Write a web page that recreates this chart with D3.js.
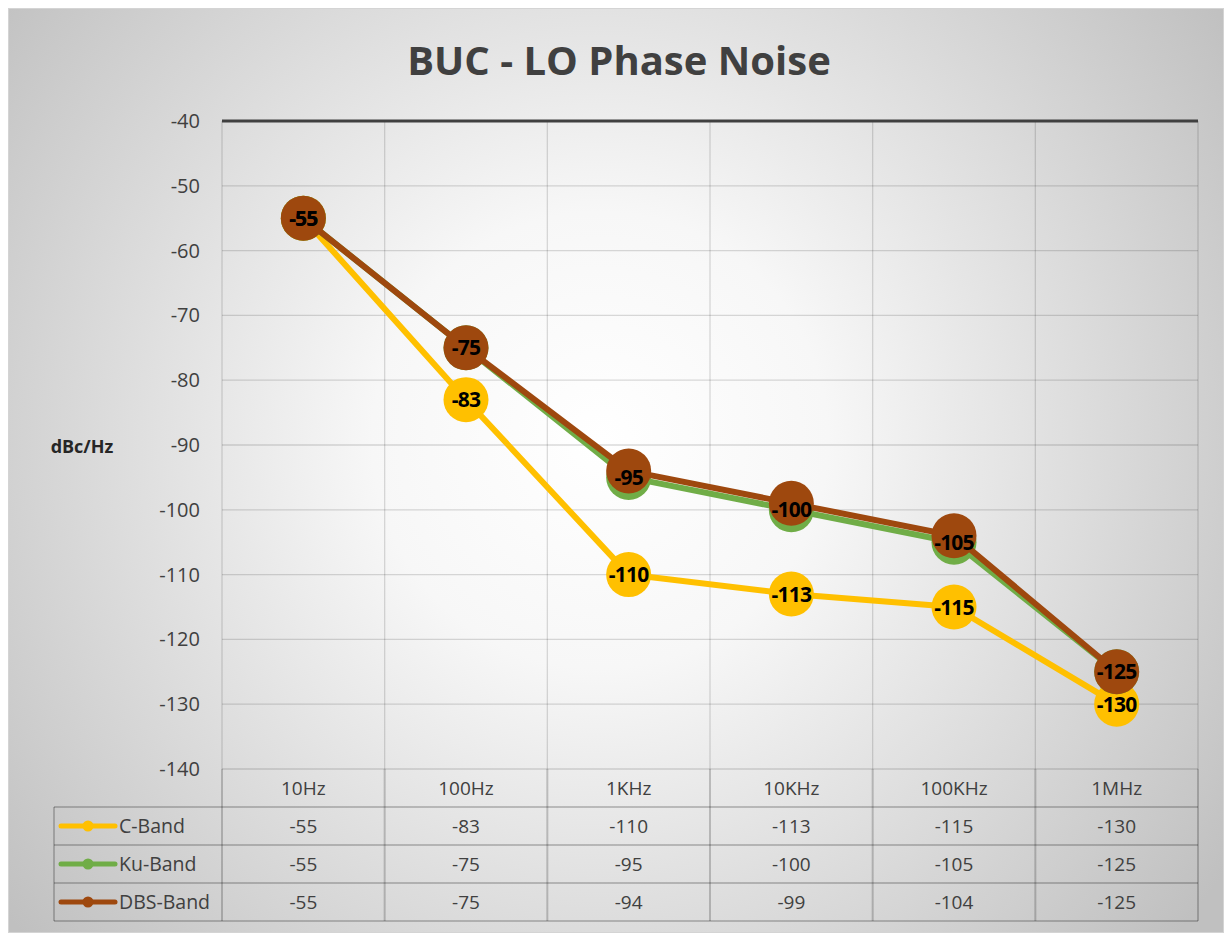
<!DOCTYPE html>
<html><head><meta charset="utf-8">
<script src="https://cdn.jsdelivr.net/npm/d3@7"></script>
<style>body{margin:0;background:#fff;} svg{display:block;font-family:"Open Sans",sans-serif;}</style>
</head><body>
<svg id="c" width="1224" height="933"></svg>
<script>
const categories = ["10Hz","100Hz","1KHz","10KHz","100KHz","1MHz"];
const cBand = [-55,-83,-110,-113,-115,-130];
const kuBand = [-55,-75,-95,-100,-105,-125];
const dbsBand = [-55,-75,-94,-99,-104,-125];
const yTicks = [-40,-50,-60,-70,-80,-90,-100,-110,-120,-130,-140];
const seriesNames = ["C-Band","Ku-Band","DBS-Band"];
const seriesColors = ["#FFC000","#70AD47","#9E480E"];
const seriesLabeled = [true,true,false];
const title = "BUC - LO Phase Noise";
const yTitle = "dBc/Hz";

const series = [cBand,kuBand,dbsBand].map((v,i)=>({name:seriesNames[i],values:v,color:seriesColors[i],labeled:seriesLabeled[i]}));

const svg = d3.select("#c");
const defs = svg.append("defs");
const rg = defs.append("radialGradient").attr("id","bg").attr("gradientUnits","userSpaceOnUse")
  .attr("cx",600).attr("cy",440).attr("r",760);
rg.append("stop").attr("offset","0%").attr("stop-color","#ffffff");
rg.append("stop").attr("offset","30%").attr("stop-color","#f7f7f7");
rg.append("stop").attr("offset","100%").attr("stop-color","#c0c0c0");

svg.append("rect").attr("x",8.5).attr("y",8.5).attr("width",1215).attr("height",924)
  .attr("fill","url(#bg)").attr("stroke","#d4d4d4").attr("stroke-width",1);

const L=222,R=1198,T=121,B=769;
const x = d3.scaleBand().domain(categories).range([L,R]);
const y = d3.scaleLinear().domain([-140,-40]).range([B,T]);
const cx = c => x(c)+x.bandwidth()/2;
const gridCol = "rgba(0,0,0,0.14)";

svg.append("g").selectAll("line").data(yTicks).join("line")
  .attr("x1",L).attr("x2",R).attr("y1",d=>y(d)).attr("y2",d=>y(d))
  .attr("stroke",gridCol).attr("stroke-width",1.3);
const vlines = categories.map(c=>x(c)).concat([R]);
svg.append("g").selectAll("line").data(vlines).join("line")
  .attr("x1",d=>d).attr("x2",d=>d).attr("y1",T).attr("y2",B)
  .attr("stroke",gridCol).attr("stroke-width",1.3);

svg.append("line").attr("x1",L).attr("x2",R).attr("y1",y(-40)).attr("y2",y(-40))
  .attr("stroke","#404040").attr("stroke-width",3);

const yAxis = d3.axisLeft(y).tickValues(yTicks).tickSize(0).tickPadding(0).tickFormat(d=>String(d));
const ga = svg.append("g").attr("transform",`translate(200,0)`).call(yAxis);
ga.select(".domain").remove();
ga.selectAll("text").attr("font-size",20).attr("fill","#404040").attr("font-family","'Open Sans',sans-serif");

svg.append("text").attr("x",82).attr("y",453).attr("text-anchor","middle")
  .attr("font-size",18).attr("font-weight","bold").attr("fill","#262626").text(yTitle);

svg.append("text").attr("x",619).attr("y",75).attr("text-anchor","middle")
  .attr("font-size",40).attr("font-weight","bold").attr("fill","#404040").text(title);

const rowH = 38;
const tableTop = B;
const tblCol = "rgba(0,0,0,0.2)";
const tg = svg.append("g");
tg.selectAll("text.h").data(categories).join("text").attr("class","h")
  .attr("x",d=>cx(d)).attr("y",tableTop+rowH/2+7).attr("text-anchor","middle")
  .attr("font-size",19).attr("fill","#404040").text(d=>d);
const hl = [tableTop+rowH, tableTop+2*rowH, tableTop+3*rowH, tableTop+4*rowH];
tg.selectAll("line.hl").data(hl).join("line").attr("class","hl")
  .attr("x1",54).attr("x2",R).attr("y1",d=>d).attr("y2",d=>d).attr("stroke",tblCol).attr("stroke-width",2);
tg.selectAll("line.vl").data(vlines).join("line").attr("class","vl")
  .attr("x1",d=>d).attr("x2",d=>d).attr("y1",tableTop).attr("y2",tableTop+4*rowH).attr("stroke",tblCol).attr("stroke-width",2);
tg.append("line").attr("x1",54).attr("x2",54).attr("y1",tableTop+rowH).attr("y2",tableTop+4*rowH).attr("stroke",tblCol).attr("stroke-width",2);

series.forEach((s,i)=>{
  const ry = tableTop+rowH*(i+1)+rowH/2;
  tg.append("line").attr("x1",61).attr("x2",115).attr("y1",ry).attr("y2",ry)
    .attr("stroke",s.color).attr("stroke-width",5).attr("stroke-linecap","round");
  tg.append("circle").attr("cx",88).attr("cy",ry).attr("r",5.5).attr("fill",s.color);
  tg.append("text").attr("x",119).attr("y",ry+7).attr("font-size",19.5).attr("fill","#404040").text(s.name);
  tg.selectAll(null).data(s.values).join("text")
    .attr("x",(d,j)=>cx(categories[j])).attr("y",ry+7).attr("text-anchor","middle")
    .attr("font-size",19).attr("fill","#404040").text(d=>String(d));
});

const line = d3.line().x((d,j)=>cx(categories[j])).y(d=>y(d));
series.forEach(s=>{
  const g = svg.append("g");
  g.append("path").datum(s.values).attr("d",line).attr("fill","none")
    .attr("stroke",s.color).attr("stroke-width",6).attr("stroke-linejoin","round");
  g.selectAll("circle").data(s.values).join("circle")
    .attr("cx",(d,j)=>cx(categories[j])).attr("cy",d=>y(d)).attr("r",22.5).attr("fill",s.color);
});
series.filter(s=>s.labeled).forEach(s=>{
  svg.append("g").selectAll("text").data(s.values).join("text")
    .attr("x",(d,j)=>cx(categories[j])).attr("y",d=>y(d)+7.5).attr("text-anchor","middle")
    .attr("font-size",21).attr("font-weight","bold").attr("fill","#000").attr("letter-spacing",-0.8).text(d=>String(d));
});
</script>
</body></html>
